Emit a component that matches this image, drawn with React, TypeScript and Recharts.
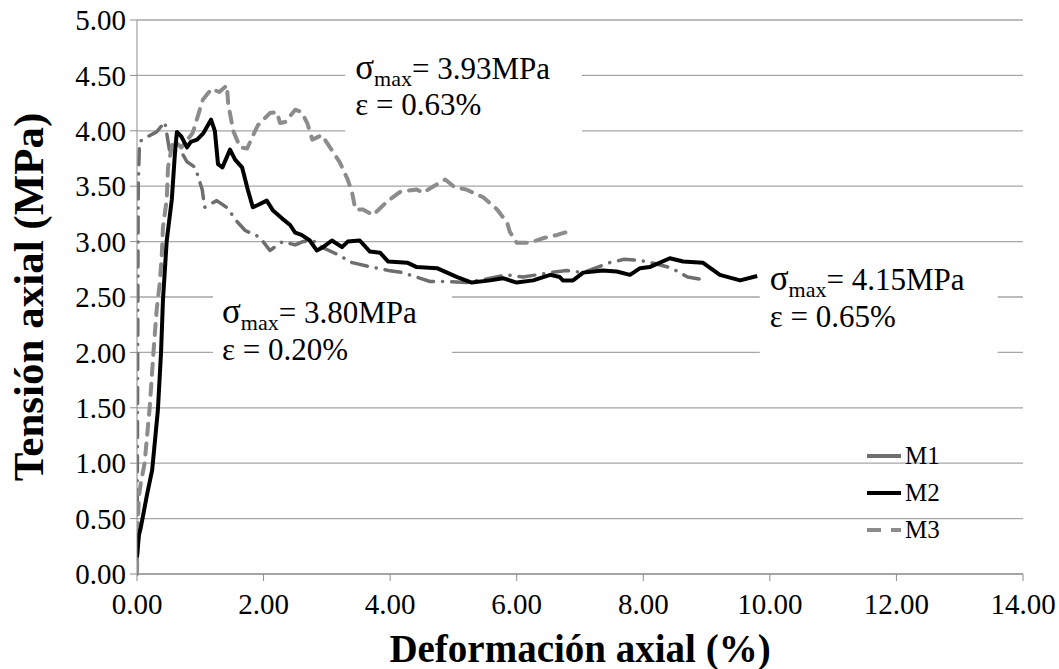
import React from 'react';
import { LineChart, Line, XAxis, YAxis, CartesianGrid, ReferenceArea, Legend } from 'recharts';

const FONT = '"Liberation Serif", "Times New Roman", serif';

const xTicks = [0, 2, 4, 6, 8, 10, 12, 14];
const yTicks = [0, 0.5, 1, 1.5, 2, 2.5, 3, 3.5, 4, 4.5, 5];
const seriesNames = ['M1', 'M2', 'M3'];
const xTitle = 'Deformación axial (%)';
const yTitle = 'Tensión axial (MPa)';
const sigmaLabels = ['3.93MPa', '3.80MPa', '4.15MPa'];
const epsLabels = ['0.63%', '0.20%', '0.65%'];

const m1 = [
  { x: 0, y: 0 }, { x: 0.005, y: 0.8 }, { x: 0.01, y: 1.8 }, { x: 0.015, y: 2.8 }, { x: 0.02, y: 3.5 },
  { x: 0.04, y: 3.9 }, { x: 0.11, y: 3.93 }, { x: 0.31, y: 3.99 }, { x: 0.44, y: 4.08 }, { x: 0.52, y: 3.8 },
  { x: 0.6, y: 3.82 }, { x: 0.71, y: 3.8 }, { x: 0.79, y: 3.72 }, { x: 0.92, y: 3.67 }, { x: 1.03, y: 3.47 },
  { x: 1.07, y: 3.31 }, { x: 1.26, y: 3.37 }, { x: 1.44, y: 3.3 }, { x: 1.55, y: 3.2 }, { x: 1.71, y: 3.1 },
  { x: 1.94, y: 3.04 }, { x: 2.1, y: 2.92 }, { x: 2.3, y: 3.0 }, { x: 2.5, y: 2.97 }, { x: 2.62, y: 3.0 },
  { x: 2.81, y: 3.0 }, { x: 2.92, y: 2.95 }, { x: 3.18, y: 2.88 }, { x: 3.4, y: 2.81 }, { x: 3.63, y: 2.78 },
  { x: 3.97, y: 2.74 }, { x: 4.2, y: 2.72 }, { x: 4.63, y: 2.64 }, { x: 4.9, y: 2.64 }, { x: 5.2, y: 2.63 },
  { x: 5.5, y: 2.66 }, { x: 5.85, y: 2.7 }, { x: 6.1, y: 2.68 }, { x: 6.53, y: 2.72 }, { x: 6.79, y: 2.74 },
  { x: 7.05, y: 2.72 }, { x: 7.47, y: 2.81 }, { x: 7.7, y: 2.84 }, { x: 7.95, y: 2.83 }, { x: 8.2, y: 2.8 },
  { x: 8.45, y: 2.76 }, { x: 8.7, y: 2.68 }, { x: 9.0, y: 2.65 },
];

const m2 = [
  { x: 0, y: 0.15 }, { x: 0.03, y: 0.35 }, { x: 0.06, y: 0.42 }, { x: 0.16, y: 0.72 }, { x: 0.24, y: 0.94 },
  { x: 0.33, y: 1.48 }, { x: 0.38, y: 2.0 }, { x: 0.41, y: 2.47 }, { x: 0.47, y: 3.01 }, { x: 0.55, y: 3.38 },
  { x: 0.6, y: 3.8 }, { x: 0.63, y: 3.99 }, { x: 0.7, y: 3.95 }, { x: 0.79, y: 3.85 }, { x: 0.85, y: 3.9 },
  { x: 0.95, y: 3.92 }, { x: 1.05, y: 3.98 }, { x: 1.17, y: 4.1 }, { x: 1.23, y: 4.0 }, { x: 1.28, y: 3.7 },
  { x: 1.35, y: 3.67 }, { x: 1.47, y: 3.83 }, { x: 1.55, y: 3.74 }, { x: 1.66, y: 3.67 }, { x: 1.75, y: 3.47 },
  { x: 1.83, y: 3.31 }, { x: 1.91, y: 3.33 }, { x: 2.05, y: 3.37 }, { x: 2.15, y: 3.28 }, { x: 2.29, y: 3.21 },
  { x: 2.42, y: 3.15 }, { x: 2.5, y: 3.08 }, { x: 2.6, y: 3.06 }, { x: 2.73, y: 3.01 }, { x: 2.84, y: 2.92 },
  { x: 2.94, y: 2.95 }, { x: 3.08, y: 3.01 }, { x: 3.24, y: 2.95 }, { x: 3.33, y: 3.0 }, { x: 3.52, y: 3.01 },
  { x: 3.68, y: 2.91 }, { x: 3.84, y: 2.9 }, { x: 3.97, y: 2.82 }, { x: 4.27, y: 2.81 }, { x: 4.42, y: 2.77 },
  { x: 4.74, y: 2.76 }, { x: 5.06, y: 2.68 }, { x: 5.29, y: 2.63 }, { x: 5.58, y: 2.65 }, { x: 5.78, y: 2.67 },
  { x: 6.0, y: 2.63 }, { x: 6.26, y: 2.65 }, { x: 6.53, y: 2.7 }, { x: 6.68, y: 2.68 }, { x: 6.73, y: 2.65 },
  { x: 6.89, y: 2.65 }, { x: 7.05, y: 2.72 }, { x: 7.36, y: 2.74 }, { x: 7.58, y: 2.73 }, { x: 7.79, y: 2.7 },
  { x: 7.95, y: 2.76 }, { x: 8.1, y: 2.77 }, { x: 8.42, y: 2.85 }, { x: 8.63, y: 2.82 }, { x: 8.94, y: 2.81 },
  { x: 9.21, y: 2.7 }, { x: 9.53, y: 2.65 }, { x: 9.8, y: 2.69 },
];

const m3 = [
  { x: 0, y: 0 }, { x: 0.01, y: 0.4 }, { x: 0.03, y: 0.7 }, { x: 0.06, y: 0.82 }, { x: 0.12, y: 1.0 },
  { x: 0.2, y: 1.5 }, { x: 0.26, y: 2.0 }, { x: 0.31, y: 2.38 }, { x: 0.36, y: 2.63 }, { x: 0.39, y: 2.86 },
  { x: 0.41, y: 3.13 }, { x: 0.47, y: 3.38 }, { x: 0.49, y: 3.67 }, { x: 0.57, y: 3.92 }, { x: 0.7, y: 3.85 },
  { x: 0.88, y: 3.98 }, { x: 1.04, y: 4.28 }, { x: 1.18, y: 4.38 }, { x: 1.3, y: 4.35 }, { x: 1.42, y: 4.41 },
  { x: 1.44, y: 4.25 }, { x: 1.52, y: 4.0 }, { x: 1.63, y: 3.85 }, { x: 1.74, y: 3.84 }, { x: 1.86, y: 3.99 },
  { x: 1.91, y: 4.05 }, { x: 2.1, y: 4.16 }, { x: 2.21, y: 4.17 }, { x: 2.26, y: 4.07 }, { x: 2.34, y: 4.08 },
  { x: 2.5, y: 4.19 }, { x: 2.6, y: 4.17 }, { x: 2.69, y: 4.07 }, { x: 2.77, y: 3.92 }, { x: 2.92, y: 3.96 },
  { x: 3.05, y: 3.85 }, { x: 3.2, y: 3.72 }, { x: 3.33, y: 3.56 }, { x: 3.4, y: 3.44 }, { x: 3.45, y: 3.29 },
  { x: 3.57, y: 3.29 }, { x: 3.73, y: 3.24 }, { x: 3.95, y: 3.36 }, { x: 4.16, y: 3.45 }, { x: 4.42, y: 3.47 },
  { x: 4.52, y: 3.44 }, { x: 4.66, y: 3.49 }, { x: 4.87, y: 3.56 }, { x: 5.02, y: 3.49 }, { x: 5.2, y: 3.47 },
  { x: 5.47, y: 3.4 }, { x: 5.69, y: 3.29 }, { x: 5.85, y: 3.17 }, { x: 5.89, y: 3.09 }, { x: 6.0, y: 2.99 },
  { x: 6.21, y: 2.99 }, { x: 6.41, y: 3.03 }, { x: 6.64, y: 3.06 }, { x: 6.81, y: 3.09 },
];

const COLORS = ['#6e6e6e', '#000000', '#8c8c8c'];

const Annot = (props: any) => {
  const { viewBox, sigma, eps, dx, y1, y2 } = props;
  if (!viewBox) return null;
  const { x, y } = viewBox;
  return (
    <g>
      <text x={x + dx} y={y + y1} fontSize={31} fontFamily={FONT} fill="#000">
        <tspan fontSize={35}>σ</tspan>
        <tspan fontSize={22} dy={7}>max</tspan>
        <tspan dy={-7}>= {sigma}</tspan>
      </text>
      <text x={x + dx} y={y + y2} fontSize={31} fontFamily={FONT} fill="#000">
        ε = {eps}
      </text>
    </g>
  );
};

const XTitle = (props: any) => {
  const { viewBox } = props;
  if (!viewBox) return null;
  return (
    <text x={viewBox.x + viewBox.width / 2} y={viewBox.y + 88} textAnchor="middle" fontSize={39} fontWeight="bold" fontFamily={FONT} fill="#000">
      {xTitle}
    </text>
  );
};

const YTitle = (props: any) => {
  const { viewBox } = props;
  if (!viewBox) return null;
  const cx = 28;
  const cy = viewBox.y + viewBox.height / 2;
  return (
    <text x={cx} y={cy} transform={`rotate(-90 ${cx} ${cy})`} textAnchor="middle" dominantBaseline="central" fontSize={43} fontWeight="bold" fontFamily={FONT} fill="#000">
      {yTitle}
    </text>
  );
};

const renderLegend = () => (
  <div style={{ fontFamily: FONT, fontSize: 25, color: '#000', lineHeight: '37px' }}>
    {seriesNames.map((n, i) => (
      <div key={n} style={{ display: 'flex', alignItems: 'center', height: 37 }}>
        <svg width={38} height={10} style={{ marginRight: 2 }}>
          <line x1={2} y1={5} x2={36} y2={5} stroke={COLORS[i]} strokeWidth={4}
            strokeDasharray={i === 2 ? '14 10' : undefined} />
        </svg>
        <span>{n}</span>
      </div>
    ))}
  </div>
);

export default function App() {
  return (
    <div style={{ position: 'absolute', left: 0, top: 0, width: 1059, height: 669, background: '#fff' }}>
      <LineChart width={1059} height={669} margin={{ top: 20, right: 36, left: 0, bottom: 0 }}>
        <CartesianGrid vertical={false} stroke="#a6a6a6" strokeWidth={1.3} />
        <XAxis
          type="number"
          dataKey="x"
          domain={[0, 14]}
          ticks={xTicks}
          allowDataOverflow
          height={95}
          stroke="#8c8c8c"
          tickSize={7}
          tickMargin={12}
          tick={{ fontSize: 29, fontFamily: FONT, fill: '#000' }}
          tickFormatter={(v: number) => v.toFixed(2)}
          label={<XTitle />}
        />
        <YAxis
          type="number"
          domain={[0, 5]}
          ticks={yTicks}
          width={137}
          stroke="#8c8c8c"
          tickSize={7}
          tickMargin={4}
          tick={{ fontSize: 29, fontFamily: FONT, fill: '#000' }}
          tickFormatter={(v: number) => v.toFixed(2)}
          label={<YTitle />}
        />
        <ReferenceArea x1={3.29} x2={7.03} y1={3.85} y2={4.75} fill="#fff" fillOpacity={1} stroke="none" ifOverflow="visible"
          label={<Annot sigma={sigmaLabels[0]} eps={epsLabels[0]} dx={10} y1={31} y2={67} />} />
        <ReferenceArea x1={1.2} x2={4.98} y1={1.85} y2={2.58} fill="#fff" fillOpacity={1} stroke="none" ifOverflow="visible"
          label={<Annot sigma={sigmaLabels[1]} eps={epsLabels[1]} dx={9} y1={35} y2={72} />} />
        <ReferenceArea x1={9.84} x2={13.6} y1={1.88} y2={2.92} fill="#fff" fillOpacity={1} stroke="none" ifOverflow="visible"
          label={<Annot sigma={sigmaLabels[2]} eps={epsLabels[2]} dx={10} y1={40} y2={77} />} />
        <Legend
          layout="vertical"
          align="center"
          verticalAlign="middle"
          content={renderLegend}
          wrapperStyle={{ left: 865, top: 437, width: 120 }}
        />
        <Line data={m1} dataKey="y" name={seriesNames[0]} type="linear" stroke={COLORS[0]} strokeWidth={3.5}
          strokeDasharray="16 9 0.1 9" strokeLinecap="round" strokeLinejoin="round" dot={false} isAnimationActive={false} />
        <Line data={m3} dataKey="y" name={seriesNames[2]} type="linear" stroke={COLORS[2]} strokeWidth={4}
          strokeDasharray="11 9" strokeLinecap="round" strokeLinejoin="round" dot={false} isAnimationActive={false} />
        <Line data={m2} dataKey="y" name={seriesNames[1]} type="linear" stroke={COLORS[1]} strokeWidth={4}
          strokeLinejoin="round" dot={false} isAnimationActive={false} />
      </LineChart>
    </div>
  );
}
